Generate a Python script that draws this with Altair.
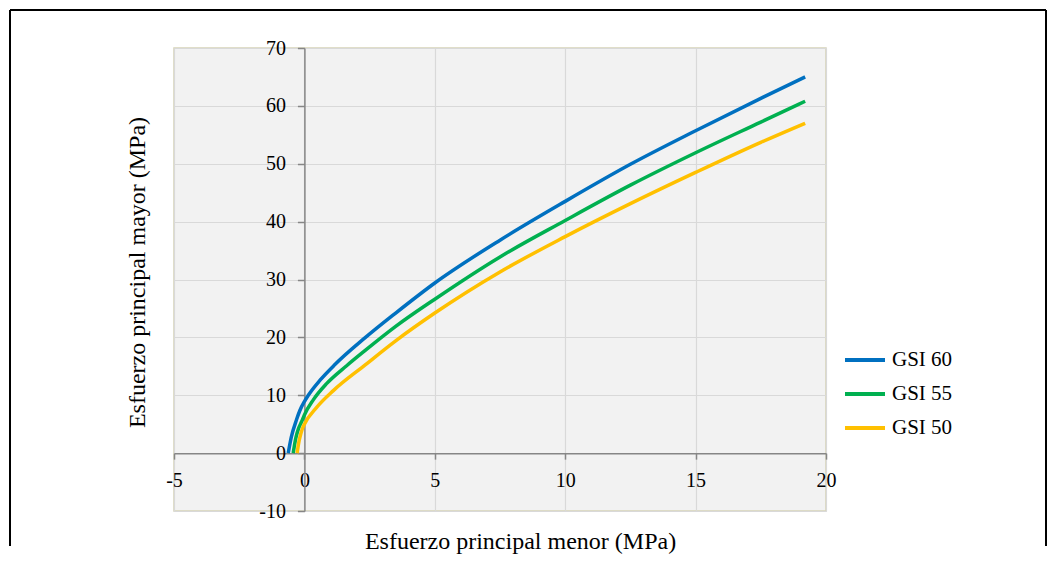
import altair as alt
import pandas as pd

# Series (sigma3, sigma1) in MPa
x60 = [-0.62, -0.5, -0.3, -0.17, 0, 0.15, 0.6, 1.17, 2.32, 3.5, 5, 7.5, 10, 12.5, 15, 17.5, 19.2]
y60 = [0, 2.8, 5.8, 7.4, 8.9, 10.0, 12.6, 15.3, 19.9, 24.2, 29.4, 36.8, 43.5, 49.9, 55.7, 61.3, 65.0]

x55 = [-0.43, -0.33, -0.23, -0.1, 0, 0.34, 0.85, 1.62, 2.32, 3.5, 5, 7.5, 10, 12.5, 15, 17.5, 19.2]
y55 = [0, 2.6, 4.2, 5.5, 6.6, 9.2, 12.0, 15.1, 17.7, 21.9, 26.6, 33.9, 40.2, 46.3, 51.9, 57.2, 60.8]

x50 = [-0.28, -0.2, -0.14, -0.07, 0, 0.47, 1.11, 2.32, 3.5, 5, 7.5, 10, 12.5, 15, 17.5, 19.2]
y50 = [0, 2.2, 3.3, 4.3, 5.0, 7.9, 10.8, 15.2, 19.4, 24.2, 31.3, 37.4, 43.1, 48.5, 53.7, 57.0]

series = ["GSI 60", "GSI 55", "GSI 50"]
colors = ["#0070C0", "#00B050", "#FFC000"]
x_ticks = [-5, 0, 5, 10, 15, 20]
y_ticks = [-10, 0, 10, 20, 30, 40, 50, 60, 70]

rows = []
for name, xs, ys in zip(series, [x60, x55, x50], [y60, y55, y50]):
    for a, b in zip(xs, ys):
        rows.append({"s3": a, "s1": b, "serie": name})
df = pd.DataFrame(rows)

FONT = "Liberation Serif"
W, H = 652, 463
y_zero_from_bottom = H * 10 / 80
x_zero_from_left = W * 5 / 25

lines = alt.Chart(df).mark_line(strokeWidth=3.5, interpolate="monotone").encode(
    x=alt.X(
        "s3:Q",
        scale=alt.Scale(domain=[-5, 20], nice=False, zero=False),
        axis=alt.Axis(
            values=x_ticks,
            offset=-y_zero_from_bottom,
            labelExpr="toString(datum.value)",
            title="Esfuerzo principal menor (MPa)",
            titleFont=FONT, titleFontSize=24, titleFontWeight="normal", titleColor="black",
            titleX=346, titleY=95, titleBaseline="alphabetic", titleAlign="center",
            grid=True, gridColor="#d9d9d9", gridWidth=1.2,
            domainColor="#868686", domainWidth=1.5,
            tickColor="#868686", tickSize=6, tickWidth=1.5,
            labelFont=FONT, labelFontSize=20, labelColor="black",
            labelPadding=11, labelFlush=False, labelOverlap=False,
        ),
    ),
    y=alt.Y(
        "s1:Q",
        scale=alt.Scale(domain=[-10, 70], nice=False, zero=False),
        axis=alt.Axis(
            values=y_ticks,
            offset=-x_zero_from_left,
            labelExpr="toString(datum.value)",
            title="Esfuerzo principal mayor (MPa)",
            titleFont=FONT, titleFontSize=24, titleFontWeight="normal", titleColor="black",
            titleX=-167, titleY=224, titleAngle=270, titleBaseline="middle", titleAlign="center",
            grid=True, gridColor="#d9d9d9", gridWidth=1.2,
            domainColor="#868686", domainWidth=1.5,
            tickColor="#868686", tickSize=7, tickWidth=1.5,
            labelFont=FONT, labelFontSize=20, labelColor="black",
            labelPadding=12, labelFlush=False, labelOverlap=False,
        ),
    ),
    color=alt.Color(
        "serie:N",
        scale=alt.Scale(domain=series, range=colors),
        legend=alt.Legend(
            title=None, orient="none", legendX=669, legendY=290,
            symbolType="stroke", symbolSize=1600, symbolStrokeWidth=4,
            labelFont=FONT, labelFontSize=21, labelColor="black", labelOffset=5,
            rowPadding=2, padding=0,
        ),
    ),
)

frame_df = pd.DataFrame({"k": [0]})
frame_l = alt.Chart(frame_df).mark_rule(color="black", strokeWidth=2).encode(
    x=alt.value(-164), y=alt.value(-38), y2=alt.value(498))
frame_t = alt.Chart(frame_df).mark_rule(color="black", strokeWidth=2).encode(
    x=alt.value(-164), x2=alt.value(872), y=alt.value(-38))
frame_r = alt.Chart(frame_df).mark_rule(color="black", strokeWidth=2).encode(
    x=alt.value(872), y=alt.value(-38), y2=alt.value(498))

chart = alt.layer(lines, frame_l, frame_t, frame_r).properties(
    width=W, height=H,
    padding={"left": 1, "top": 1, "right": 0, "bottom": 0},
    background="white",
).configure_view(
    fill="#f2f2f2", stroke="#d6d3b8", strokeWidth=1.5,
)

chart.save("out.html", embed_options={"renderer": "svg", "actions": False})
